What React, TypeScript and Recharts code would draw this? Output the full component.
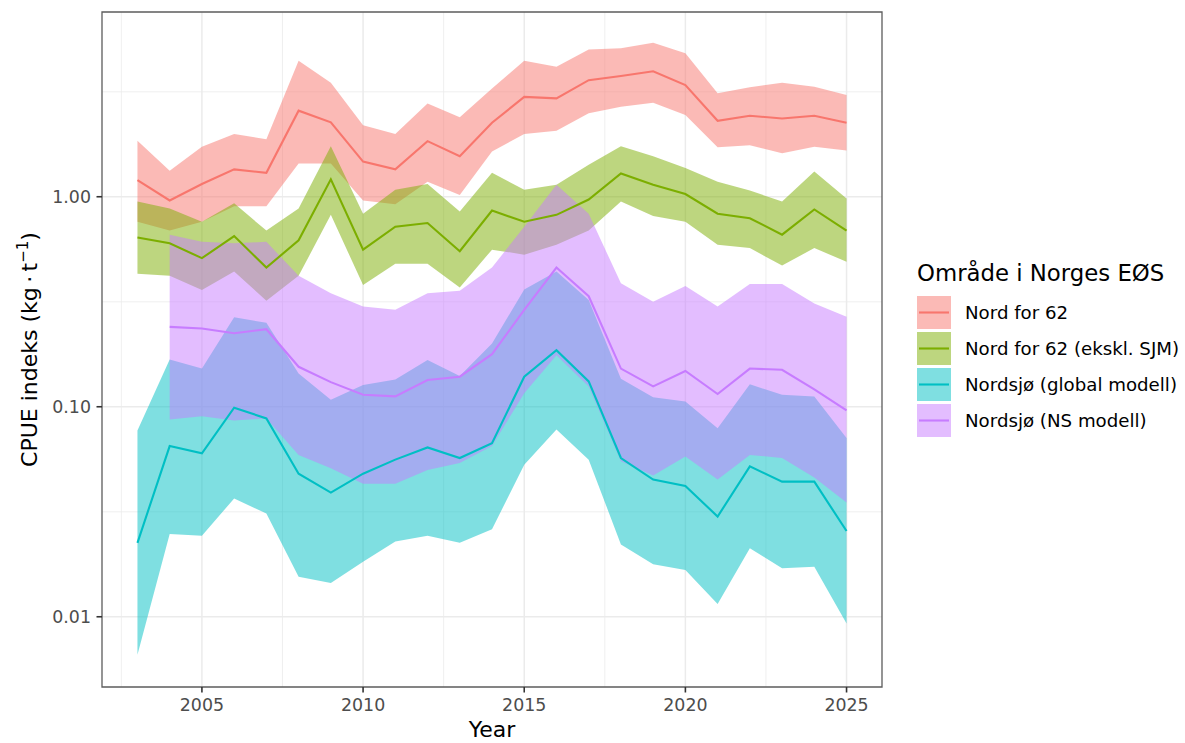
import React from "react";
import {
  ComposedChart,
  Area,
  Line,
  XAxis,
  YAxis,
  CartesianGrid,
  ReferenceArea,
  Legend,
} from "recharts";

// CPUE index per year, median with lower/upper band, one set per area
const years = [
  2003, 2004, 2005, 2006, 2007, 2008, 2009, 2010, 2011, 2012, 2013, 2014,
  2015, 2016, 2017, 2018, 2019, 2020, 2021, 2022, 2023, 2024, 2025,
];

const nordMid = [1.2, 0.96, 1.15, 1.35, 1.3, 2.57, 2.26, 1.47, 1.35, 1.84, 1.56, 2.25, 2.99, 2.94, 3.59, 3.76, 3.96, 3.4, 2.3, 2.43, 2.36, 2.43, 2.25];
const nordLo = [0.76, 0.69, 0.76, 0.9, 0.9, 1.44, 1.44, 0.96, 0.92, 1.18, 1.02, 1.64, 1.99, 2.06, 2.5, 2.68, 2.8, 2.45, 1.72, 1.76, 1.61, 1.73, 1.66];
const nordHi = [1.85, 1.33, 1.73, 1.99, 1.88, 4.44, 3.49, 2.19, 1.99, 2.78, 2.39, 3.28, 4.44, 4.16, 5.03, 5.09, 5.41, 4.82, 3.11, 3.32, 3.49, 3.34, 3.05];

const sjmMid = [0.64, 0.6, 0.51, 0.65, 0.46, 0.62, 1.21, 0.56, 0.72, 0.75, 0.55, 0.86, 0.76, 0.82, 0.97, 1.29, 1.14, 1.03, 0.83, 0.79, 0.66, 0.87, 0.69];
const sjmLo = [0.43, 0.42, 0.36, 0.44, 0.32, 0.42, 0.82, 0.38, 0.48, 0.48, 0.37, 0.56, 0.53, 0.59, 0.69, 0.95, 0.81, 0.76, 0.59, 0.57, 0.47, 0.57, 0.49];
const sjmHi = [0.95, 0.88, 0.76, 0.93, 0.69, 0.88, 1.74, 0.83, 1.08, 1.15, 0.85, 1.3, 1.08, 1.14, 1.42, 1.74, 1.56, 1.37, 1.18, 1.07, 0.95, 1.32, 0.98];

const globalMid = [0.0225, 0.065, 0.06, 0.099, 0.088, 0.048, 0.039, 0.048, 0.056, 0.064, 0.057, 0.067, 0.139, 0.186, 0.132, 0.057, 0.045, 0.042, 0.03, 0.052, 0.044, 0.044, 0.0256];
const globalLo = [0.0066, 0.0248, 0.0243, 0.0366, 0.031, 0.0155, 0.0145, 0.0183, 0.0228, 0.0243, 0.0225, 0.0261, 0.053, 0.078, 0.056, 0.0221, 0.0178, 0.0167, 0.0115, 0.0212, 0.017, 0.0173, 0.0093];
const globalHi = [0.077, 0.168, 0.152, 0.267, 0.251, 0.144, 0.108, 0.127, 0.135, 0.167, 0.14, 0.2, 0.362, 0.44, 0.322, 0.136, 0.111, 0.106, 0.079, 0.128, 0.114, 0.112, 0.071];

// NS model has no estimate for 2003
const nsMid = [null, 0.24, 0.236, 0.224, 0.234, 0.155, 0.131, 0.114, 0.112, 0.134, 0.139, 0.178, 0.289, 0.46, 0.336, 0.152, 0.125, 0.148, 0.115, 0.152, 0.15, 0.121, 0.096];
const nsLo = [null, 0.087, 0.09, 0.086, 0.088, 0.059, 0.051, 0.043, 0.043, 0.05, 0.054, 0.065, 0.116, 0.176, 0.125, 0.055, 0.047, 0.058, 0.045, 0.059, 0.057, 0.046, 0.035];
const nsHi = [null, 0.66, 0.61, 0.6, 0.61, 0.42, 0.347, 0.3, 0.29, 0.347, 0.357, 0.46, 0.72, 1.14, 0.83, 0.387, 0.316, 0.376, 0.3, 0.384, 0.384, 0.31, 0.268];

const xTicks = [2005, 2010, 2015, 2020, 2025];
const xMinor = [2002.5, 2007.5, 2012.5, 2017.5, 2022.5];
const yTicks = [0.01, 0.1, 1];
const yMinor = [0.0316, 0.316, 3.16];

const X_DOMAIN: [number, number] = [2001.9, 2026.1];
const Y_DOMAIN: [number, number] = [0.00463, 7.58];

const FONT = "'DejaVu Sans', sans-serif";

type Series = {
  key: string;
  name: string;
  color: string;
  mid: (number | null)[];
  lo: (number | null)[];
  hi: (number | null)[];
};

const series: Series[] = [
  { key: "nord", name: "Nord for 62", color: "#F8766D", mid: nordMid, lo: nordLo, hi: nordHi },
  { key: "sjm", name: "Nord for 62 (ekskl. SJM)", color: "#7CAE00", mid: sjmMid, lo: sjmLo, hi: sjmHi },
  { key: "global", name: "Nordsjø (global modell)", color: "#00BFC4", mid: globalMid, lo: globalLo, hi: globalHi },
  { key: "ns", name: "Nordsjø (NS modell)", color: "#C77CFF", mid: nsMid, lo: nsLo, hi: nsHi },
];

const rows = years.map((year, i) => {
  const row: Record<string, unknown> = { year };
  series.forEach((s) => {
    const lo = s.lo[i];
    const hi = s.hi[i];
    row[`${s.key}Mid`] = s.mid[i];
    row[`${s.key}Band`] = lo == null || hi == null ? null : [lo, hi];
  });
  return row;
});

const fmtY = (v: number) => v.toFixed(2);

const YTitle = (props: any) => {
  const { viewBox } = props;
  const cy = viewBox.y + viewBox.height / 2;
  return (
    <text
      transform={`translate(37,${cy}) rotate(-90)`}
      textAnchor="middle"
      fontFamily={FONT}
      fontSize={22}
      fill="#000"
    >
      CPUE indeks (kg{"\u2009·\u2009"}t
      <tspan dy={-9} fontSize={15}>
        −1
      </tspan>
      <tspan dy={9}>)</tspan>
    </text>
  );
};

const XTitle = (props: any) => {
  const { viewBox } = props;
  const cx = viewBox.x + viewBox.width / 2;
  return (
    <text x={cx} y={737} textAnchor="middle" fontFamily={FONT} fontSize={22} fill="#000">
      Year
    </text>
  );
};

const LegendBox = () => (
  <div style={{ fontFamily: FONT, color: "#000" }}>
    <div style={{ fontSize: 22.8, lineHeight: "22px", marginBottom: 12, whiteSpace: "nowrap" }}>
      Område i Norges EØS
    </div>
    {series.map((s) => (
      <div
        key={s.key}
        style={{ display: "flex", alignItems: "center", height: 33, marginBottom: 3 }}
      >
        <svg width={34} height={33} style={{ display: "block" }}>
          <rect x={0} y={0} width={34} height={33} fill={s.color} fillOpacity={0.5} />
          <line x1={2} x2={32} y1={16.5} y2={16.5} stroke={s.color} strokeWidth={2.1} />
        </svg>
        <span style={{ fontSize: 18.2, marginLeft: 14, whiteSpace: "nowrap" }}>{s.name}</span>
      </div>
    ))}
  </div>
);

export default function App() {
  return (
    <div style={{ position: "absolute", left: 0, top: 0, background: "#fff" }}>
      <ComposedChart
        width={1185}
        height={743}
        data={rows}
        margin={{ top: 12, right: 303, bottom: 0, left: 0 }}
      >
        {/* minor grid, then major grid */}
        <CartesianGrid
          stroke="#EBEBEB"
          strokeWidth={0.8}
          verticalValues={xMinor}
          horizontalValues={yMinor}
        />
        <CartesianGrid
          stroke="#EBEBEB"
          strokeWidth={1.5}
          verticalValues={xTicks}
          horizontalValues={yTicks}
        />
        <XAxis
          dataKey="year"
          type="number"
          domain={X_DOMAIN}
          ticks={xTicks}
          allowDataOverflow
          height={56}
          axisLine={false}
          tickLine={{ stroke: "#333", strokeWidth: 1.6 }}
          tickSize={5.5}
          tickMargin={6}
          tick={{ fill: "#4D4D4D", fontSize: 17.4, fontFamily: FONT }}
          label={{ content: <XTitle /> }}
        />
        <YAxis
          type="number"
          scale="log"
          domain={Y_DOMAIN}
          ticks={yTicks}
          allowDataOverflow
          width={102}
          axisLine={false}
          tickLine={{ stroke: "#333", strokeWidth: 1.6 }}
          tickSize={5.5}
          tickMargin={5.5}
          tickFormatter={fmtY}
          tick={{ fill: "#4D4D4D", fontSize: 17.4, fontFamily: FONT }}
          label={{ content: <YTitle /> }}
        />
        {series.map((s) => (
          <Area
            key={`${s.key}-band`}
            type="linear"
            dataKey={`${s.key}Band`}
            stroke="none"
            fill={s.color}
            fillOpacity={0.5}
            dot={false}
            activeDot={false}
            legendType="none"
            isAnimationActive={false}
          />
        ))}
        {series.map((s) => (
          <Line
            key={`${s.key}-line`}
            type="linear"
            dataKey={`${s.key}Mid`}
            name={s.name}
            stroke={s.color}
            strokeWidth={2.1}
            dot={false}
            activeDot={false}
            isAnimationActive={false}
          />
        ))}
        <ReferenceArea
          x1={X_DOMAIN[0]}
          x2={X_DOMAIN[1]}
          y1={Y_DOMAIN[0]}
          y2={Y_DOMAIN[1]}
          fill="none"
          stroke="#5c5c5c"
          strokeWidth={1.3}
          ifOverflow="visible"
        />
        <Legend
          layout="horizontal"
          verticalAlign="middle"
          align="center"
          content={<LegendBox />}
          wrapperStyle={{ left: 917, top: 262, width: 268 }}
        />
      </ComposedChart>
    </div>
  );
}
